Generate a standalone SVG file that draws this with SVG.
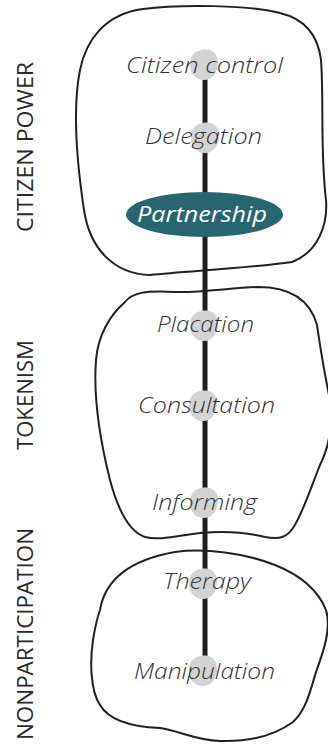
<svg xmlns="http://www.w3.org/2000/svg" width="328" height="744" viewBox="0 0 328 744">
<style>
.zone{fill:none;stroke:#231f20;stroke-width:2;stroke-linejoin:round}
.lbl{font-family:"Open Sans","Liberation Sans",Arial,sans-serif;font-style:italic;font-weight:300;font-size:22px;fill:#333}
.lblw{font-family:"Open Sans","Liberation Sans",Arial,sans-serif;font-style:italic;font-weight:400;font-size:22px;fill:#ffffff}
.side{font-family:"Open Sans","Liberation Sans",Arial,sans-serif;font-weight:400;font-size:21px;fill:#2a2a2a}
.blob{fill:#d3d3d3}
</style>
<defs>
<path id="blob" d="M -2 -15 C 8 -17 14 -11 14 -3 C 14 7 9 15 0 15 C -9 15 -14 8 -14 0 C -14 -9 -10 -14 -2 -15 Z"/>
</defs>
<rect width="328" height="744" fill="#ffffff"/>
<g id="zones">
<path class="zone" d="M 143 9 C 180 4 250 5 280 13 C 305 19 318 35 321 60 C 324 100 320 150 326 200 C 328 225 318 252 292 262 C 250 268 190 271 150 275 C 115 274 90 250 84 210 C 78 170 72 110 80 70 C 86 40 105 14 143 9 Z"/>
<path class="zone" d="M 125 302 C 132 293 145 290 175 292 C 200 293 230 288 258 287 C 290 287 310 300 317 325 C 320 345 322 360 328 390 C 334 420 330 445 320 465 C 310 490 302 515 293 528 C 287 537 280 540 265 537 C 245 532 220 531 200 533 C 180 535 160 541 145 537 C 130 532 118 510 110 480 C 100 440 93 400 96 360 C 98 335 110 315 125 302 Z"/>
<path class="zone" d="M 100 610 C 105 580 130 560 175 552 C 205 548 245 553 275 565 C 300 575 318 590 326 610 C 332 630 322 655 316 672 C 310 692 306 710 293 722 C 275 735 250 742 220 741 C 195 740 180 731 160 728 C 135 727 110 722 100 705 C 90 690 90 660 93 640 C 95 628 97 618 100 610 Z"/>
</g>
<g id="connectors">
<line x1="205" y1="62" x2="205" y2="668" stroke="#231f20" stroke-width="5"/>
</g>
<g id="citizen-control">
<use href="#blob" class="blob" transform="translate(204,65)"/>
<text class="lbl" x="126" y="73" textLength="157" lengthAdjust="spacingAndGlyphs">Citizen control</text>
</g>
<g id="delegation">
<use href="#blob" class="blob" transform="translate(205,138)"/>
<text class="lbl" x="145" y="144" textLength="117" lengthAdjust="spacingAndGlyphs">Delegation</text>
</g>
<g id="partnership">
<ellipse cx="204.5" cy="214.5" rx="78.5" ry="22.5" fill="#27666f"/>
<text class="lblw" x="137" y="222" textLength="130" lengthAdjust="spacingAndGlyphs">Partnership</text>
</g>
<g id="placation">
<use href="#blob" class="blob" transform="translate(204,326)"/>
<text class="lbl" x="157" y="332" textLength="97" lengthAdjust="spacingAndGlyphs">Placation</text>
</g>
<g id="consultation">
<use href="#blob" class="blob" transform="translate(203,406)"/>
<text class="lbl" x="138" y="413" textLength="137" lengthAdjust="spacingAndGlyphs">Consultation</text>
</g>
<g id="informing">
<use href="#blob" class="blob" transform="translate(204,503)"/>
<text class="lbl" x="152" y="510" textLength="105" lengthAdjust="spacingAndGlyphs">Informing</text>
</g>
<g id="therapy">
<use href="#blob" class="blob" transform="translate(203,584)"/>
<text class="lbl" x="163" y="589" textLength="88" lengthAdjust="spacingAndGlyphs">Therapy</text>
</g>
<g id="manipulation">
<use href="#blob" class="blob" transform="translate(203,671)"/>
<text class="lbl" x="134" y="679" textLength="141" lengthAdjust="spacingAndGlyphs">Manipulation</text>
</g>
<g id="side-labels">
<text class="side" transform="translate(33,147) rotate(-90)" text-anchor="middle" textLength="170" lengthAdjust="spacingAndGlyphs">CITIZEN POWER</text>
<text class="side" transform="translate(33,395) rotate(-90)" text-anchor="middle" textLength="110" lengthAdjust="spacingAndGlyphs">TOKENISM</text>
<text class="side" transform="translate(33,634) rotate(-90)" text-anchor="middle" textLength="212" lengthAdjust="spacingAndGlyphs">NONPARTICIPATION</text>
</g>
</svg>
